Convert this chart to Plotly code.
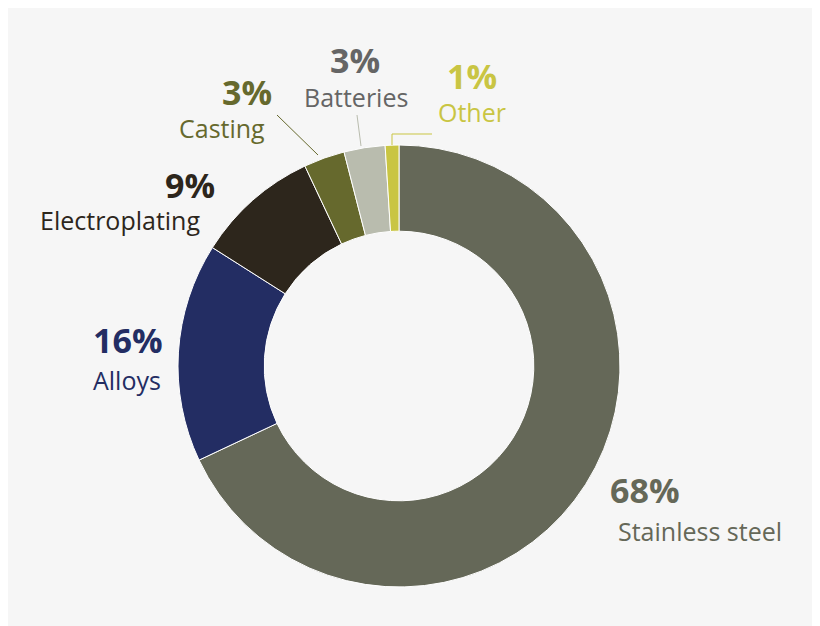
import plotly.graph_objects as go

categories = ["Stainless steel", "Alloys", "Electroplating", "Casting", "Batteries", "Other"]
values = [68, 16, 9, 3, 3, 1]
pct_labels = ["68%", "16%", "9%", "3%", "3%", "1%"]
colors = ["#656858", "#232d63", "#2d261c", "#66692d", "#b9bcae", "#c9c543"]
text_colors = ["#656858", "#232d63", "#2d261c", "#66692d", "#656565", "#c9c543"]

W, H = 820, 626
OFF = 8  # page body margin offset

def px(x):
    return (x - OFF) / W

def py(y):
    return 1 - (y - OFF) / H

fig = go.Figure(go.Pie(
    labels=categories, values=values, sort=False, direction="clockwise", rotation=0,
    hole=0.61, marker=dict(colors=colors, line=dict(color="white", width=1)),
    textinfo="none", hoverinfo="label+percent", showlegend=False,
    domain=dict(x=[px(178), px(620)], y=[py(587), py(145)]),
))

pos = [(645, 490, 700, 531), (128, 340, 127, 380), (190, 185, 120, 220),
       (247, 92, 222, 128), (355, 60, 356, 97), (472, 76, 472, 112)]
ann = []
for i, (ax, ay, lx, ly) in enumerate(pos):
    ann.append(dict(x=px(ax), y=py(ay), xref="paper", yref="paper", text="<b>"+pct_labels[i]+"</b>",
                    xanchor="center", yanchor="middle", showarrow=False,
                    font=dict(family="Open Sans", size=34, color=text_colors[i])))
    ann.append(dict(x=px(lx), y=py(ly), xref="paper", yref="paper", text=categories[i],
                    xanchor="center", yanchor="middle", showarrow=False,
                    font=dict(family="Open Sans", size=25, color=text_colors[i])))

def ln(x0, y0, x1, y1, c):
    return dict(type="line", xref="paper", yref="paper", x0=px(x0), y0=py(y0), x1=px(x1), y1=py(y1),
                line=dict(color=c, width=1))
shapes = [ln(277, 115, 318, 155, "#66692d"), ln(357, 115, 361, 146, "#b9bcae"),
          ln(392, 145, 392, 134, "#c9c543"), ln(392, 134, 432, 134, "#c9c543")]

fig.update_layout(width=W, height=H, margin=dict(l=0, r=0, t=0, b=0),
                  paper_bgcolor="#f6f6f6", plot_bgcolor="#f6f6f6",
                  annotations=ann, shapes=shapes)
fig.write_html("out.html")
